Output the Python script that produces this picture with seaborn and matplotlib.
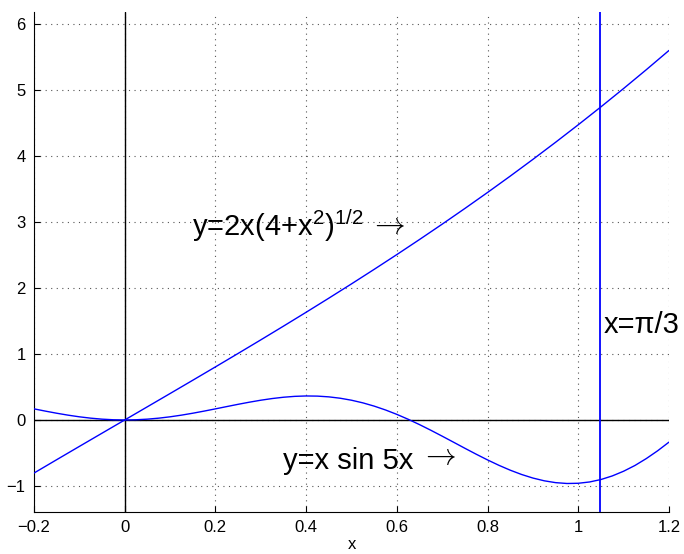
import numpy as np
import pandas as pd
import matplotlib
matplotlib.use("Agg")
import matplotlib.pyplot as plt
import seaborn as sb

# valores
x1 = [-0.2, -0.15, -0.1, -0.05, 0.0, 0.05, 0.1, 0.15, 0.2, 0.25, 0.3, 0.35, 0.4,
      0.45, 0.5, 0.55, 0.6, 0.65, 0.7, 0.75, 0.8, 0.85, 0.9, 0.95, 1.0, 1.05,
      1.1, 1.15, 1.2]
y1 = [-0.8040, -0.6017, -0.4005, -0.2001, 0.0, 0.2001, 0.4005, 0.6017, 0.8040,
      1.0078, 1.2134, 1.4213, 1.6317, 1.8450, 2.0616, 2.2817, 2.5057, 2.7339,
      2.9665, 3.2040, 3.4465, 3.6943, 3.9477, 4.2069, 4.4721, 4.7436, 5.0216,
      5.3062, 5.5977]

x2 = [-0.2, -0.175, -0.15, -0.125, -0.1, -0.075, -0.05, -0.025, 0.0, 0.025,
      0.05, 0.075, 0.1, 0.125, 0.15, 0.175, 0.2, 0.225, 0.25, 0.275, 0.3,
      0.325, 0.35, 0.375, 0.4, 0.425, 0.45, 0.475, 0.5, 0.525, 0.55, 0.575,
      0.6, 0.625, 0.65, 0.675, 0.7, 0.725, 0.75, 0.775, 0.8, 0.825, 0.85,
      0.875, 0.9, 0.925, 0.95, 0.975, 1.0, 1.025, 1.05, 1.075, 1.1, 1.125,
      1.15, 1.175, 1.2]
y2 = [0.1683, 0.1343, 0.1022, 0.0731, 0.0479, 0.0275, 0.0124, 0.0031, 0.0,
      0.0031, 0.0124, 0.0275, 0.0479, 0.0731, 0.1022, 0.1343, 0.1683, 0.2030,
      0.2373, 0.2697, 0.2993, 0.3245, 0.3444, 0.3578, 0.3637, 0.3614, 0.3501,
      0.3295, 0.2992, 0.2593, 0.2099, 0.1515, 0.0847, 0.0104, -0.0703, -0.1561,
      -0.2456, -0.3368, -0.4287, -0.5188, -0.6054, -0.6867, -0.7607, -0.8257,
      -0.8798, -0.9215, -0.9493, -0.9621, -0.9589, -0.9390, -0.9019, -0.8475,
      -0.7761, -0.6890, -0.5845, -0.4664, -0.3353]

x_vline = 1.0472  # pi/3
xticks = [-0.2, 0, 0.2, 0.4, 0.6, 0.8, 1, 1.2]
xtick_labels = ["\u22120.2", "0", "0.2", "0.4", "0.6", "0.8", "1", "1.2"]
yticks = [-1, 0, 1, 2, 3, 4, 5, 6]
ytick_labels = ["\u22121", "0", "1", "2", "3", "4", "5", "6"]

df1 = pd.DataFrame({"x": x1, "y": y1})
df2 = pd.DataFrame({"x": x2, "y": y2})

sb.set_style("ticks")
plt.rcParams["font.family"] = ["Liberation Sans", "DejaVu Sans"]
plt.rcParams["mathtext.fontset"] = "custom"
plt.rcParams["mathtext.rm"] = "Liberation Sans"
plt.rcParams["mathtext.it"] = "Liberation Sans"
for k in ["text.color", "axes.labelcolor", "xtick.color", "ytick.color"]:
    plt.rcParams[k] = "black"

fig = plt.figure(figsize=(6.84, 5.54), dpi=100)
ax = fig.add_axes([34 / 684, 42 / 554, 635 / 684, 500 / 554])

ax.axhline(0, color="black", lw=1, zorder=2)
ax.axvline(0, color="black", lw=1, zorder=2)
sb.lineplot(data=df1, x="x", y="y", color="blue", lw=1, ax=ax, zorder=3)
sb.lineplot(data=df2, x="x", y="y", color="blue", lw=1, ax=ax, zorder=3)
ax.axvline(x_vline, color="blue", lw=1.3, zorder=3)

ax.set_xlim(-0.2, 1.2)
ax.set_ylim(-1.394, 6.18)
ax.set_xticks(xticks)
ax.set_xticklabels(xtick_labels)
ax.set_yticks(yticks)
ax.set_yticklabels(ytick_labels)
ax.grid(True, linestyle=(0, (1, 4)), color="#555555", lw=0.8)
ax.tick_params(direction="in", length=4, labelsize=12, pad=6)
sb.despine(ax=ax)
ax.spines["left"].set_color("black")
ax.spines["bottom"].set_color("black")
ax.set_xlabel("x", fontsize=12, labelpad=1)
ax.set_ylabel("")

t1 = ax.text(0.148, 2.95, r"y=2x(4+x$^{\mathrm{2}}$)$^{\mathrm{1/2}}$",
             fontsize=21, va="center", ha="left")
t2 = ax.text(0.348, -0.62, "y=x sin 5x", fontsize=21, va="center", ha="left")
ax.text(1.056, 1.44, "x=\u03c0/3", fontsize=21, va="center", ha="left", clip_on=False)

# flechas estilo TeX despues de cada texto
ax.annotate(r"$\rightarrow$", xy=(1, 0.5), xycoords=t1, xytext=(4, 0),
            textcoords="offset points", fontsize=22, va="center", ha="left",
            math_fontfamily="cm")
ax.annotate(r"$\rightarrow$", xy=(1, 0.68), xycoords=t2, xytext=(5, 0),
            textcoords="offset points", fontsize=22, va="center", ha="left",
            math_fontfamily="cm")

fig.savefig("out.png", dpi=100)
